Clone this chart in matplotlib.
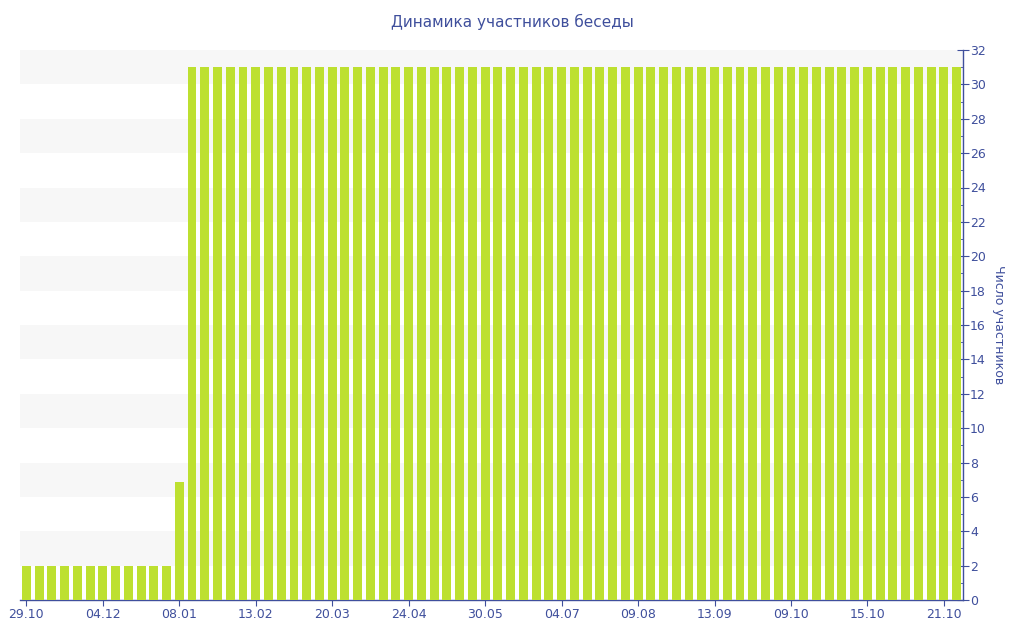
import numpy as np
import matplotlib.pyplot as plt
from matplotlib.ticker import MultipleLocator

# Данные: число участников беседы по периодам
values = [2] * 12 + [6.85] + [31] * 61
tick_labels = ["29.10", "04.12", "08.01", "13.02", "20.03", "24.04", "30.05",
               "04.07", "09.08", "13.09", "09.10", "15.10", "21.10"]
tick_step = 6

bar_color = "#bde030"
text_color = "#3f4f9c"

fig = plt.figure(figsize=(10.24, 6.4), dpi=100)
ax = fig.add_axes([20 / 1024, 40 / 640, 943 / 1024, 550 / 640])

x = np.arange(len(values))
ax.bar(x, values, width=0.7, color=bar_color, zorder=3)

# Полосы фона
for k in range(8):
    ax.axhspan(2 + 4 * k, 4 + 4 * k, color="#f7f7f7", zorder=0, lw=0)

ax.set_xlim(-0.5, len(values) - 0.5)
ax.set_ylim(0, 32)

ax.set_xticks(x[::tick_step][:len(tick_labels)])
ax.set_xticklabels(tick_labels)

ax.yaxis.tick_right()
ax.yaxis.set_label_position("right")
ax.yaxis.set_major_locator(MultipleLocator(2))
ax.yaxis.set_minor_locator(MultipleLocator(1))
ax.set_ylabel("Число участников", rotation=270, labelpad=14,
              color=text_color, fontsize=9)

for side in ["top", "left"]:
    ax.spines[side].set_visible(False)
for side in ["bottom", "right"]:
    ax.spines[side].set_color(text_color)
    ax.spines[side].set_linewidth(1)

ax.tick_params(axis="x", colors=text_color, labelsize=9, length=4, pad=2)
ax.tick_params(axis="y", which="major", colors=text_color, labelsize=9,
               direction="inout", length=8, pad=1)
ax.tick_params(axis="y", which="minor", colors=text_color,
               direction="in", length=4)

fig.text(0.5, 1 - 22 / 640, "Динамика участников беседы", ha="center",
         va="center", color=text_color, fontsize=11)

fig.savefig("out.png", dpi=100)
